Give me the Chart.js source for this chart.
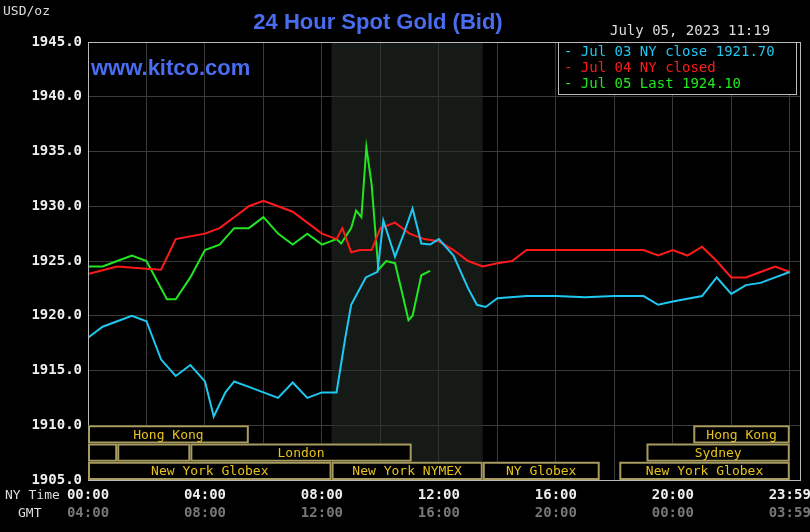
<!DOCTYPE html>
<html><head><meta charset="utf-8">
<script src="https://cdn.jsdelivr.net/npm/chart.js@4"></script>
<style>html,body{margin:0;background:#000;}#w{width:810px;height:532px;}</style>
</head><body><div id="w"><canvas id="c"></canvas></div>
<script>
const yTicks = ['1905.0','1910.0','1915.0','1920.0','1925.0','1930.0','1935.0','1940.0','1945.0'];
const nyLabels = ['00:00','04:00','08:00','12:00','16:00','20:00','23:59'];
const gmtLabels = ['04:00','08:00','12:00','16:00','20:00','00:00','03:59'];
const labelHours = [0,4,8,12,16,20,24];
const legendLabels = ['Jul 03 NY close 1921.70','Jul 04 NY closed','Jul 05 Last 1924.10'];

const blueT = [0,0.5,1,1.5,2,2.5,3,3.5,4,4.3,4.7,5,5.5,6,6.5,7,7.5,8,8.5,8.8,9,9.5,9.9,10.1,10.5,10.8,11.1,11.4,11.7,12,12.5,13,13.3,13.6,14,15,16,17,18,19,19.5,20,21,21.5,22,22.5,23,23.5,24];
const blueV = [1918,1919,1919.5,1920,1919.5,1916,1914.5,1915.5,1914,1910.8,1913,1914,1913.5,1913,1912.5,1913.9,1912.5,1913,1913,1918,1921,1923.5,1924,1928.7,1925.4,1927.5,1929.8,1926.6,1926.5,1927,1925.5,1922.5,1921,1920.8,1921.6,1921.8,1921.8,1921.7,1921.8,1921.8,1921,1921.3,1921.8,1923.5,1922,1922.8,1923,1923.5,1924];
const redT = [0,1,2,2.5,3,4,4.5,5,5.5,6,6.5,7,7.5,8,8.5,8.7,9,9.3,9.7,10,10.5,11,11.5,12,12.5,13,13.5,14,14.5,15,16,17,18,19,19.5,20,20.5,21,21.5,22,22.5,23,23.5,24];
const redV = [1923.8,1924.5,1924.3,1924.2,1927,1927.5,1928,1929,1930,1930.5,1930,1929.5,1928.5,1927.5,1927,1928,1925.8,1926,1926,1928,1928.5,1927.5,1927,1926.8,1926,1925,1924.5,1924.8,1925,1926,1926,1926,1926,1926,1925.5,1926,1925.5,1926.3,1925,1923.5,1923.5,1924,1924.5,1924];
const greenT = [0,0.5,1,1.5,2,2.3,2.7,3,3.5,4,4.5,5,5.5,6,6.5,7,7.5,8,8.5,8.66,9,9.17,9.35,9.52,9.7,9.93,10.2,10.5,10.75,10.96,11.1,11.4,11.7];
const greenV = [1924.5,1924.5,1925,1925.5,1925,1923.5,1921.5,1921.5,1923.5,1926,1926.5,1928,1928,1929,1927.5,1926.5,1927.5,1926.5,1927,1926.6,1928,1929.6,1929,1935.4,1932,1924.2,1925,1924.8,1922,1919.6,1920,1923.7,1924.1];
const sessionRows = [0,0,1,1,1,1,2,2,2,2];
const sessionNames = ['Hong Kong','Hong Kong','','','London','Sydney','New York Globex','New York NYMEX','NY Globex','New York Globex'];
const sessionStart = [0,20.7,0,1,3.5,19.1,0,8.33,13.5,18.17];
const sessionEnd = [5.5,24,1,3.5,11.07,24,8.33,13.5,17.5,24];

const pts=(t,v)=>t.map((x,i)=>({x:x,y:v[i]}));
const MONO='"DejaVu Sans Mono", monospace';
const colors=['#1ec8f0','#ff1a1a','#22e622'];

const overlay={id:'overlay',
 beforeDatasetsDraw(ch){const c=ch.ctx,x=ch.scales.x,a=ch.chartArea;
  c.save();c.fillStyle='rgba(40,48,40,0.55)';
  const x0=x.getPixelForValue(sessionStart[7]),x1=x.getPixelForValue(sessionEnd[7]);
  c.fillRect(x0,a.top,x1-x0,a.bottom-a.top);c.restore();},
 afterDraw(ch){const c=ch.ctx,x=ch.scales.x,y=ch.scales.y,a=ch.chartArea;c.save();
  c.strokeStyle='#bbb';c.lineWidth=1;c.strokeRect(a.left+0.5,a.top+0.5,a.right-a.left,a.bottom-a.top);
  const rowH=Math.abs(y.getPixelForValue(1905)-y.getPixelForValue(1910))/3;
  c.font='13px '+MONO;c.textAlign='center';c.textBaseline='middle';
  for(let i=0;i<sessionNames.length;i++){
   const x0=x.getPixelForValue(sessionStart[i]),x1=x.getPixelForValue(sessionEnd[i]);
   const yb=a.bottom-(2-sessionRows[i])*rowH;const yt=yb-rowH;
   c.fillStyle='#000';c.fillRect(x0,yt,x1-x0,rowH);
   c.strokeStyle='#a89c60';c.lineWidth=2;c.strokeRect(x0+1,yt+1,x1-x0-2,rowH-2);
   c.fillStyle='#e6c21a';c.fillText(sessionNames[i],(x0+x1)/2,yt+rowH/2+1);}
  c.font='bold 14px '+MONO;c.textBaseline='top';
  labelHours.forEach((h,i)=>{const px=x.getPixelForValue(h);
   c.fillStyle='#eee';c.fillText(nyLabels[i],px,a.bottom+8);
   c.fillStyle='#777';c.fillText(gmtLabels[i],px,a.bottom+26);});
  c.font='13px '+MONO;c.textAlign='left';c.fillStyle='#ddd';
  c.fillText('NY Time',5,a.bottom+9);c.fillText('GMT',18,a.bottom+27);c.fillText('USD/oz',3,5);
  c.textAlign='center';c.font='bold 22px "Liberation Sans", Arial, sans-serif';c.fillStyle='#4a6cf0';
  c.fillText('24 Hour Spot Gold (Bid)',378,12);
  c.textAlign='left';c.font='bold 22px "Liberation Sans", Arial, sans-serif';c.fillText('www.kitco.com',91,58);
  c.font='14px '+MONO;c.fillStyle='#ddd';c.fillText('July 05, 2023 11:19',610,24);
  c.fillStyle='#000';c.fillRect(558,42,238,52);c.strokeStyle='#bbb';c.lineWidth=1;c.strokeRect(558.5,42.5,238,52);
  legendLabels.forEach((s,i)=>{c.fillStyle=colors[i];c.fillText('- '+s,564,45+i*16);});
  c.restore();}};

new Chart(document.getElementById('c'),{type:'line',
 data:{datasets:[
  {data:pts(blueT,blueV),borderColor:colors[0]},
  {data:pts(redT,redV),borderColor:colors[1]},
  {data:pts(greenT,greenV),borderColor:colors[2]}]},
 options:{responsive:true,maintainAspectRatio:false,animation:false,
  elements:{point:{radius:0},line:{borderWidth:2,tension:0}},
  layout:{padding:{top:42,right:10}},
  plugins:{legend:{display:false},tooltip:{enabled:false}},
  scales:{
   x:{type:'linear',min:0,max:24.35,grid:{color:'#3a3a3a',drawTicks:false},border:{display:false},
      afterBuildTicks(s){s.ticks=[0,2,4,6,8,10,12,14,16,18,20,22,24].map(v=>({value:v}));},
      ticks:{display:false},afterFit(s){s.height=52;}},
   y:{min:1905,max:1945,grid:{color:'#3a3a3a',drawTicks:false},border:{display:false},
      afterBuildTicks(s){s.ticks=yTicks.map(v=>({value:parseFloat(v)}));},
      ticks:{color:'#eee',padding:6,font:{family:MONO,size:14,weight:'bold'},callback:(v)=>yTicks.find(t=>parseFloat(t)===v)},
      afterFit(s){s.width=88;}}}},
 plugins:[overlay]});
</script></body></html>
